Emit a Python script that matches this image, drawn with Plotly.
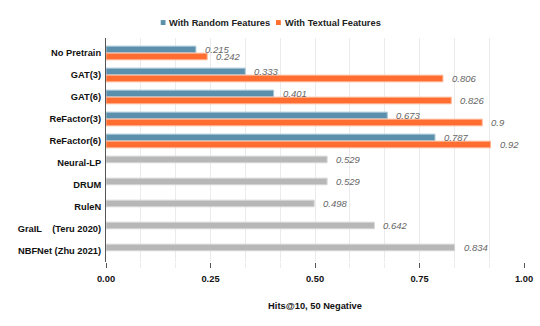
import plotly.graph_objects as go

categories = ["No Pretrain", "GAT(3)", "GAT(6)", "ReFactor(3)", "ReFactor(6)",
              "Neural-LP", "DRUM", "RuleN", "GraIL    (Teru 2020)", "NBFNet (Zhu 2021)"]
random_feat = [0.215, 0.333, 0.401, 0.673, 0.787, 0.529, 0.529, 0.498, 0.642, 0.834]
textual_feat = [0.242, 0.806, 0.826, 0.9, 0.92, None, None, None, None, None]
random_labels = ["0.215", "0.333", "0.401", "0.673", "0.787", "0.529", "0.529", "0.498", "0.642", "0.834"]
textual_labels = ["0.242", "0.806", "0.826", "0.9", "0.92", None, None, None, None, None]
series_names = ["With Random Features", "With Textual Features"]

BLUE = "#5b90ad"
ORANGE = "#ff6d30"
GRAY = "#b7b7b7"
FONT = "Liberation Sans"
n_pre = 5
rand_colors = [BLUE] * n_pre + [GRAY] * (len(categories) - n_pre)
rand_lines = ["#a9c6d6"] * n_pre + ["#d6d6d6"] * (len(categories) - n_pre)

fig = go.Figure()
fig.add_trace(go.Bar(y=categories, x=random_feat, orientation="h", name=series_names[0],
                     marker=dict(color=rand_colors, line=dict(color=rand_lines, width=1)),
                     showlegend=False, hoverinfo="x"))
fig.add_trace(go.Bar(y=categories, x=textual_feat, orientation="h", name=series_names[1],
                     marker=dict(color=ORANGE, line=dict(color="#ffb594", width=1)),
                     showlegend=False, hoverinfo="x"))

ann = []
for c, v, t in zip(categories, random_feat, random_labels):
    ann.append(dict(x=v, y=c, text="<i>" + t + "</i>", xref="x", yref="y",
                    xanchor="left", yanchor="middle", xshift=7, yshift=3.5, showarrow=False,
                    font=dict(size=9.5, color="#666666", family=FONT)))
for c, v, t in zip(categories, textual_feat, textual_labels):
    if v is None:
        continue
    ann.append(dict(x=v, y=c, text="<i>" + t + "</i>", xref="x", yref="y",
                    xanchor="left", yanchor="middle", xshift=7, yshift=-3.5, showarrow=False,
                    font=dict(size=9.5, color="#666666", family=FONT)))

# manual legend (compact, as in the reference)
leg_font = dict(size=9.3, family=FONT, weight="bold", color="#222222")
leg_items = [(series_names[0], BLUE, 0.1309, 0.147), (series_names[1], ORANGE, 0.4067, 0.4227)]
shapes = []
for name, col, mx, tx in leg_items:
    shapes.append(dict(type="rect", xref="paper", yref="paper", x0=mx, x1=mx + 0.0115,
                       y0=1.058, y1=1.080, fillcolor=col, line=dict(width=0)))
    ann.append(dict(x=tx, y=1.068, xref="paper", yref="paper", text=name, showarrow=False,
                    xanchor="left", yanchor="middle", font=leg_font))

fig.update_layout(
    width=540, height=326,
    margin=dict(l=106, r=16, t=38, b=64),
    paper_bgcolor="white", plot_bgcolor="white",
    barmode="group", bargap=0.36, bargroupgap=0.06,
    font=dict(family=FONT, color="#111111"),
    annotations=ann, shapes=shapes,
    showlegend=False,
    xaxis=dict(range=[0, 1], tickvals=[0, 0.25, 0.5, 0.75, 1.0],
               ticktext=["0.00", "0.25", "0.50", "0.75", "1.00"],
               showgrid=False, zeroline=False, automargin=False,
               ticks="outside", ticklen=5, tickcolor="#555555", tickwidth=1,
               ticklabelstandoff=3,
               tickfont=dict(size=9.3, family=FONT, weight="bold", color="#111111"),
               minor=dict(dtick=1/12, tick0=0, showgrid=True, gridcolor="#ebebeb", gridwidth=1,
                          ticks="outside", ticklen=5, tickcolor="#ebebeb"),
               title=dict(text="Hits@10, 50 Negative", standoff=19,
                          font=dict(size=9.3, family=FONT, weight="bold", color="#111111"))),
    yaxis=dict(categoryorder="array", categoryarray=categories,
               range=[9.5, -0.68], showgrid=False, zeroline=False, automargin=False,
               showline=True, linecolor="#555555", linewidth=1,
               ticks="", ticklabelstandoff=2,
               tickfont=dict(size=9.3, family=FONT, weight="bold", color="#111111")),
)

fig.write_html("out.html", config={"displayModeBar": False},
               post_script="document.body.style.margin='0';document.body.style.overflow='hidden';")
